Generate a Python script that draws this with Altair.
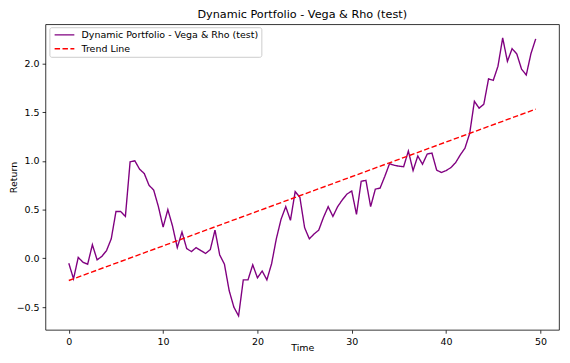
import altair as alt
import pandas as pd

SERIES = "Dynamic Portfolio - Vega & Rho (test)"
TREND = "Trend Line"

time = [i * 0.5 for i in range(100)]
returns = [
    -0.05, -0.21, 0.01, -0.04, -0.06, 0.14, -0.015, 0.02, 0.08, 0.20,
    0.48, 0.48, 0.43, 0.99, 1.00, 0.915, 0.87, 0.75, 0.70, 0.53,
    0.32, 0.50, 0.33, 0.11, 0.27, 0.10, 0.07, 0.11, 0.08, 0.05,
    0.09, 0.29, 0.035, -0.06, -0.33, -0.50, -0.59, -0.22, -0.22, -0.066,
    -0.20, -0.13, -0.22, -0.055, 0.20, 0.40, 0.53, 0.39, 0.685, 0.625,
    0.315, 0.20, 0.25, 0.29, 0.42, 0.53, 0.43, 0.53, 0.60, 0.66,
    0.69, 0.45, 0.79, 0.80, 0.53, 0.71, 0.72, 0.84, 0.97, 0.955,
    0.945, 0.94, 1.10, 0.90, 1.05, 0.965, 1.07, 1.08, 0.905, 0.88,
    0.90, 0.93, 0.98, 1.06, 1.13, 1.28, 1.61, 1.54, 1.58, 1.84,
    1.825, 1.97, 2.26, 2.02, 2.15, 2.095, 1.94, 1.88, 2.10, 2.25,
]
trend_time = [0.0, 49.5]
trend_values = [-0.227, 1.53]

df = pd.concat([
    pd.DataFrame({"Time": time, "Return": returns, "series": SERIES}),
    pd.DataFrame({"Time": trend_time, "Return": trend_values, "series": TREND}),
])

domain = [SERIES, TREND]

legend_kw = dict(title=None, orient="none", legendX=4, legendY=3,
                 symbolType="M-1,0L7,0", symbolSize=25,
                 symbolStrokeWidth=1.4, symbolFillColor="transparent",
                 labelOffset=20, labelLimit=400,
                 labelFontSize=9.6, labelFont="DejaVu Sans",
                 labelColor="black", rowPadding=3,
                 padding=3, fillColor="white",
                 strokeColor="#cccccc", cornerRadius=2)

chart = alt.Chart(df).mark_line(strokeWidth=1.4).encode(
    x=alt.X("Time:Q", scale=alt.Scale(domain=[-2.475, 51.975], nice=False, zero=False),
            axis=alt.Axis(values=[0, 10, 20, 30, 40, 50], format="d", title="Time",
                          titleBaseline="bottom", titleY=23)),
    y=alt.Y("Return:Q", scale=alt.Scale(domain=[-0.733, 2.40], nice=False, zero=False),
            axis=alt.Axis(values=[-0.5, 0.0, 0.5, 1.0, 1.5, 2.0], format=".1f", title="Return",
                          titleAngle=270, titleBaseline="bottom", titleX=-27)),
    color=alt.Color("series:N", scale=alt.Scale(domain=domain, range=["#800080", "#ff0000"]),
                    legend=alt.Legend(**legend_kw)),
    strokeDash=alt.StrokeDash("series:N", scale=alt.Scale(domain=domain, range=[[1, 0], [5.5, 2.5]]),
                              legend=alt.Legend(**legend_kw)),
    detail="series:N",
    order="Time:Q",
).properties(
    width=521,
    height=310,
    title=alt.TitleParams("Dynamic Portfolio - Vega & Rho (test)", fontSize=11.4,
                          font="DejaVu Sans", fontWeight="normal", color="black",
                          anchor="middle", offset=4),
    autosize=alt.AutoSizeParams(type="none"),
    padding={"left": 38, "top": 14, "right": 3, "bottom": 23},
).configure_view(
    stroke="black", strokeWidth=0.8
).configure_axis(
    grid=False, domain=False,
    tickColor="black", tickSize=3.4, tickWidth=0.8,
    labelFont="DejaVu Sans", labelFontSize=9.6, labelColor="black", labelPadding=3,
    titleFont="DejaVu Sans", titleFontSize=9.6, titleFontWeight="normal", titleColor="black",
)

chart.save("out.html", embed_options={"renderer": "svg", "actions": False})
